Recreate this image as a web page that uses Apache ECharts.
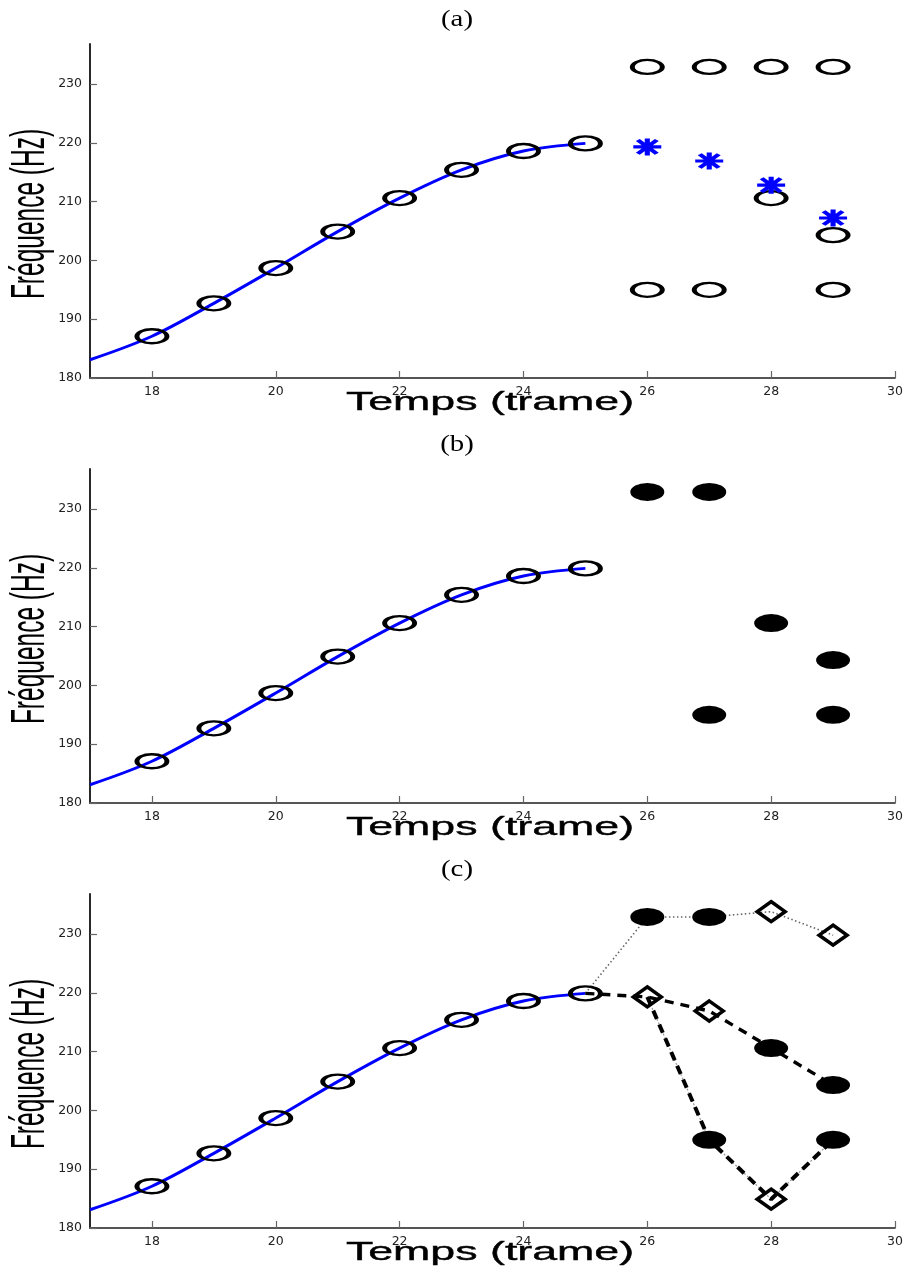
<!DOCTYPE html>
<html>
<head>
<meta charset="utf-8">
<script src="https://cdn.jsdelivr.net/npm/echarts@6/dist/echarts.min.js"></script>
<style>
html,body{margin:0;padding:0;background:#fff;}
#chart{width:906px;height:1270px;}
</style>
</head>
<body>
<div id="chart"></div>
<script>
// ---- data ----
var panelTitles = ['(a)', '(b)', '(c)'];
var xTitle = 'Temps (trame)';
var yTitle = 'Fréquence (Hz)';
var xTicks = [18, 20, 22, 24, 26, 28, 30];
var yTicks = [180, 190, 200, 210, 220, 230];

var trackX = [18, 19, 20, 21, 22, 23, 24, 25];
var trackY = [187.1, 192.7, 198.7, 204.9, 210.6, 215.4, 218.6, 219.9];
var curveX = [17, 18, 19, 20, 21, 22, 23, 24, 25];
var curveY = [183.1, 187.1, 192.7, 198.7, 204.9, 210.6, 215.4, 218.6, 219.9];

var candX = [26, 26, 27, 27, 28, 28, 29, 29, 29];
var candY = [232.9, 195.0, 232.9, 195.0, 232.9, 210.6, 232.9, 204.3, 195.0];
var predX = [26, 27, 28, 29];
var predY = [219.3, 216.9, 212.8, 207.2];

var selX = [26, 27, 27, 28, 29, 29];
var selY = [232.9, 232.9, 195.0, 210.6, 204.3, 195.0];

var diamX = [26, 27, 28, 29, 28];
var diamY = [219.3, 216.9, 233.8, 229.8, 184.9];
var hyp1X = [25, 26, 27, 28, 29];
var hyp1Y = [219.9, 232.9, 232.9, 233.8, 229.8];
var hyp2X = [25, 26, 27, 28, 29];
var hyp2Y = [219.9, 219.3, 216.9, 210.6, 204.3];
var hyp3X = [26, 27, 28, 29];
var hyp3Y = [219.3, 195.0, 184.9, 195.0];

function pairs(xs, ys) { return xs.map(function (x, i) { return [x, ys[i]]; }); }

(function () {
var GRID_TOP = 44, GRID_H = 334, STEP = 425;
var grids = [], xAxes = [], yAxes = [], series = [], graphics = [];

function circleSeries(p, xs, ys) {
  return { type: 'scatter', xAxisIndex: p, yAxisIndex: p, data: pairs(xs, ys), z: 5,
    symbol: 'circle', symbolSize: [30, 14],
    itemStyle: { color: 'rgba(0,0,0,0)', borderColor: '#000', borderWidth: 3.4, opacity: 1 } };
}
function filledSeries(p, xs, ys) {
  return { type: 'scatter', xAxisIndex: p, yAxisIndex: p, data: pairs(xs, ys), z: 5,
    symbol: 'circle', symbolSize: [34, 18],
    itemStyle: { color: '#000', opacity: 1 } };
}

for (var p = 0; p < 3; p++) {
  var gridTop = GRID_TOP + p * STEP;
  grids.push({ left: 90, right: 11, top: gridTop, height: GRID_H });
  xAxes.push({
    type: 'value', gridIndex: p, min: 17, max: 30, interval: 1,
    axisLine: { show: true, onZero: false, lineStyle: { color: '#555', width: 1.8 } },
    axisTick: { show: true, inside: true, length: 7, customValues: xTicks,
      lineStyle: { color: '#666', width: 1.2 } },
    axisLabel: { margin: 7, color: '#222', fontFamily: 'DejaVu Sans', fontSize: 12.5,
      customValues: xTicks },
    splitLine: { show: false }
  });
  yAxes.push({
    type: 'value', gridIndex: p, min: 180, max: 236.8, interval: 10,
    axisLine: { show: true, onZero: false, lineStyle: { color: '#111', width: 1.8 } },
    axisTick: { show: true, inside: true, length: 7, customValues: yTicks,
      lineStyle: { color: '#666', width: 1.2 } },
    axisLabel: { margin: 8, color: '#222', fontFamily: 'DejaVu Sans', fontSize: 12.5,
      customValues: yTicks },
    splitLine: { show: false }
  });

  series.push({ type: 'line', xAxisIndex: p, yAxisIndex: p, data: pairs(curveX, curveY),
    smooth: 0.35, showSymbol: false, z: 2,
    lineStyle: { color: '#0000ff', width: 3 } });
  series.push(circleSeries(p, trackX, trackY));

  graphics.push({ type: 'text', x: 457, y: 20 + p * STEP, scaleX: 1.2, silent: true,
    style: { text: panelTitles[p], font: '24px "Liberation Serif"', fill: '#000',
      textAlign: 'center', textVerticalAlign: 'middle' } });
  graphics.push({ type: 'text', x: 490, y: 403 + p * STEP, scaleX: 1.72, silent: true,
    style: { text: xTitle, font: '26px "Liberation Sans"', fill: '#000', stroke: '#000', lineWidth: 0.4,
      textAlign: 'center', textVerticalAlign: 'middle' } });
  graphics.push({ type: 'text', x: 31, y: 214 + p * STEP, rotation: Math.PI / 2, scaleY: 1.95, silent: true,
    style: { text: yTitle, font: '24.5px "Liberation Sans"', fill: '#000',
      textAlign: 'center', textVerticalAlign: 'middle' } });
}

series.push(circleSeries(0, candX, candY));
series.push({ type: 'scatter', xAxisIndex: 0, yAxisIndex: 0, data: pairs(predX, predY), z: 6,
  symbol: 'path://M0,50 L100,50 M50,0 L50,100 M16,10 L84,90 M84,10 L16,90', symbolSize: [28, 17],
  itemStyle: { color: 'rgba(0,0,0,0)', borderColor: '#0000ff', borderWidth: 4, opacity: 1 } });

series.push(filledSeries(1, selX, selY));

series.push({ type: 'line', xAxisIndex: 2, yAxisIndex: 2, data: pairs(hyp1X, hyp1Y),
  showSymbol: false, z: 3, lineStyle: { color: '#666', width: 1.6, type: [1.5, 2.5] } });
series.push({ type: 'line', xAxisIndex: 2, yAxisIndex: 2, data: pairs(hyp2X, hyp2Y),
  showSymbol: false, z: 3, lineStyle: { color: '#000', width: 3.4, type: [9, 7] } });
series.push({ type: 'line', xAxisIndex: 2, yAxisIndex: 2, data: pairs(hyp3X, hyp3Y),
  showSymbol: false, z: 3, lineStyle: { color: '#999', width: 1.2, type: [2, 2] } });
series.push({ type: 'line', xAxisIndex: 2, yAxisIndex: 2, data: pairs(hyp3X, hyp3Y),
  showSymbol: false, z: 3, lineStyle: { color: '#000', width: 4, type: [9, 6] } });
series.push(filledSeries(2, selX, selY));
series.push({ type: 'scatter', xAxisIndex: 2, yAxisIndex: 2, data: pairs(diamX, diamY), z: 5,
  symbol: 'diamond', symbolSize: [28, 20],
  itemStyle: { color: 'rgba(0,0,0,0)', borderColor: '#000', borderWidth: 3.6, opacity: 1 } });

var chart = echarts.init(document.getElementById('chart'));
chart.setOption({
  animation: false,
  backgroundColor: '#fff',
  grid: grids, xAxis: xAxes, yAxis: yAxes, series: series,
  graphic: { elements: graphics }
});
})();
</script>
</body>
</html>
